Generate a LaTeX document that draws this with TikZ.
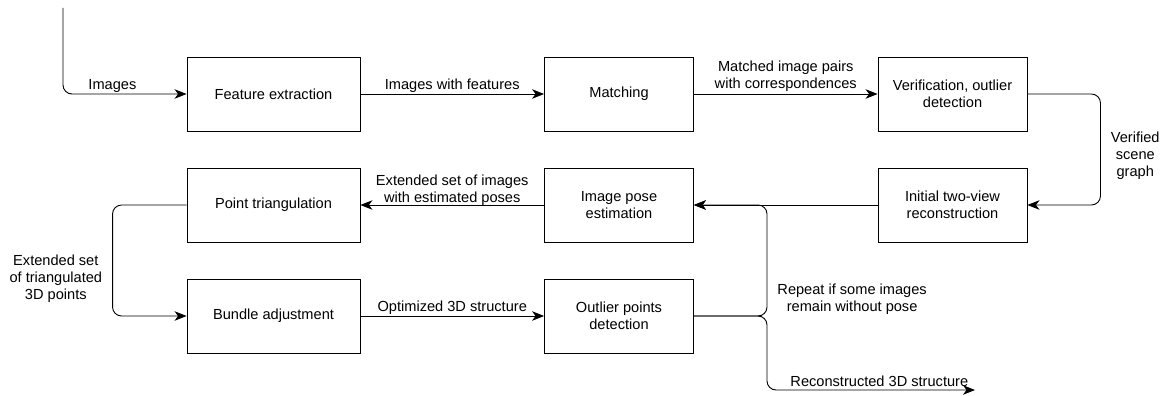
\documentclass[tikz,border=0pt]{standalone}
\usepackage{fontspec}
\setmainfont{Liberation Sans}
\usetikzlibrary{arrows.meta}

\begin{document}
\begin{tikzpicture}[x=1pt, y=-1pt, line width=0.9pt,
		>={Stealth[length=12pt,width=9.5pt,inset=3.5pt]},
		font=\fontsize{14.6}{17}\selectfont,
		stage/.style={rectangle, draw, minimum height=74pt, align=center, inner sep=2pt},
		widestage/.style={stage, minimum width=173pt},
		narrowstage/.style={stage, minimum width=149pt},
		flow/.style={->, rounded corners=9pt},
		lbl/.style={align=center, inner sep=2pt}]
		\useasboundingbox (0,0) rectangle (1164,396);
		\node[widestage] (fe) at (273.5,94) {Feature extraction};
		\node[narrowstage] (match) at (619,94) {Matching};
		\node[narrowstage] (verif) at (952.5,94) {Verification, outlier\\detection};
		\node[narrowstage] (init) at (952.5,205) {Initial two-view\\reconstruction};
		\node[narrowstage] (pose) at (619,205) {Image pose\\estimation};
		\node[widestage] (tri) at (273.5,205) {Point triangulation};
		\node[widestage] (ba) at (273.5,316) {Bundle adjustment};
		\node[narrowstage] (outl) at (619,316) {Outlier points\\detection};
		\coordinate (in) at (63,8);
		\coordinate (split) at (767,316);
		\coordinate (out) at (975,390);
		\draw[flow] (in) |- node[lbl,pos=0.7,above=-1pt] {Images} (fe.west);
		\draw[flow] (fe.east) -- node[lbl,above=-1pt] {Images with features} (match.west);
		\draw[flow] (match.east) -- node[lbl,above=0pt] {Matched image pairs\\with correspondences} (verif.west);
		\draw[flow] (verif.east) -- ++(73,0) |- node[lbl,pos=0.28,right=8pt] {Verified\\scene\\graph} (init.east);
		\draw[flow] (init.west) -- (pose.east);
		\draw[flow] (pose.west) -- node[lbl,above=-3pt] {Extended set of images\\with estimated poses} (tri.east);
		\draw[flow] (tri.west) -- ++(-74,0) |- node[lbl,pos=0.33,left=8pt] {Extended set\\of triangulated\\3D points} (ba.west);
		\draw[flow] (ba.east) -- node[lbl,above=-1pt] {Optimized 3D structure} (outl.west);
		\draw[flow] (outl.east) -- (split) |- node[lbl,pos=0.075,right=8pt] {Repeat if some images\\remain without pose} (pose.east);
		\draw[flow] (outl.east) -- (split) |- node[lbl,pos=0.77,above=1pt] {Reconstructed 3D structure} (out);
\end{tikzpicture}
\end{document}
